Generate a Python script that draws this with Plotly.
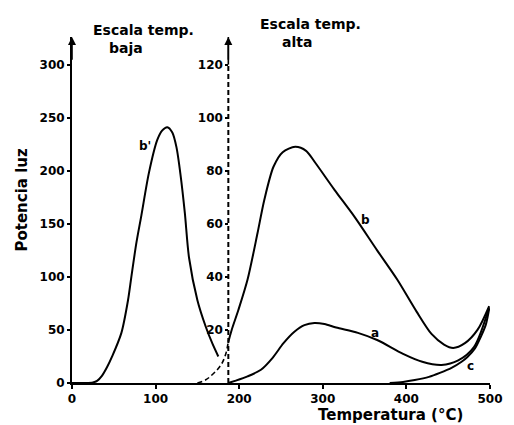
import plotly.graph_objects as go

# ---- data ----
# curve b' : low temperature scale (left axis, 0-300)
bp_T = [0, 15, 25, 30, 36, 42, 48, 59, 67, 71, 77, 83, 92, 102, 108, 114, 120, 125, 130, 135, 140, 150, 160, 168, 175]
bp_V = [0, 0, 0.5, 2, 7, 15, 25, 47, 78, 100, 132, 158, 198, 229, 238, 241, 236, 222, 195, 160, 118, 78, 53, 37, 25]

# curve b : high temperature scale (right axis, 0-120); dashed part below the split temperature
b_low_T = [150, 160, 168, 175, 180, 184, 187]
b_low_V = [0, 1.2, 3.2, 5.5, 7.8, 11, 15.5]
b_T = [187, 191, 199, 210, 222, 230, 241, 252, 267, 280, 291, 314, 338, 365, 389, 412, 430, 445, 456, 470, 485, 499]
b_V = [15.5, 20, 27.5, 39, 56.6, 69, 81.5, 87, 89, 87.5, 83, 72.8, 62.6, 50, 39, 27, 18.5, 14.5, 13.2, 15, 20, 29]

# curve a
a_T = [187, 195, 210, 226, 240, 253, 266, 278, 290, 302, 316, 342, 365, 396, 419, 442, 462, 481, 499]
a_V = [0, 0.8, 2.5, 5, 9.5, 15, 19.3, 21.8, 22.6, 22.2, 20.9, 18.9, 16.2, 11, 8, 6.8, 8.5, 13.6, 28.5]

# curve c
c_T = [380, 396, 410, 427, 440, 454, 466, 473, 482, 489, 495, 499]
c_V = [0, 0.4, 1.1, 2.3, 3.8, 5.7, 8, 9.8, 13, 17.4, 22, 28]

split_T = 187          # temperature of the dashed (high-scale) axis
left_ticks = [0, 50, 100, 150, 200, 250, 300]
right_ticks = [20, 40, 60, 80, 100, 120]
x_ticks = [0, 100, 200, 300, 400, 500]
left_top = 326
scale = 2.5            # left units per right unit
curve_labels = [("b'", 87, 223, "y"), ("b", 351, 61.5, "y2"), ("a", 363, 19, "y2"), ("c", 477, 6.5, "y2")]

FONT = "DejaVu Sans"
line = dict(color="black", width=2, shape="spline", smoothing=0.8)

W, H = 514, 425
L, R, T, B = 72, 11, 37, 42
pw, ph = W - L - R, H - T - B


def px_x(v):
    return (v - L) / pw


def px_y(v):
    return 1 - (v - T) / ph


fig = go.Figure()
fig.add_trace(go.Scatter(x=bp_T, y=bp_V, mode="lines", line=line, yaxis="y"))
fig.add_trace(go.Scatter(x=b_low_T, y=b_low_V, mode="lines",
                         line=dict(color="black", width=1.6, dash="5px,3px", shape="spline"), yaxis="y2"))
fig.add_trace(go.Scatter(x=b_T, y=b_V, mode="lines", line=line, yaxis="y2"))
fig.add_trace(go.Scatter(x=a_T, y=a_V, mode="lines", line=line, yaxis="y2"))
fig.add_trace(go.Scatter(x=c_T, y=c_V, mode="lines", line=line, yaxis="y2"))
# dashed axis of the high temperature scale
fig.add_trace(go.Scatter(x=[split_T, split_T], y=[0, 120], mode="lines",
                         line=dict(color="black", width=2, dash="5px,3px"), yaxis="y2"))
fig.add_trace(go.Scatter(x=[split_T, split_T], y=[120, left_top / scale], mode="lines",
                         line=dict(color="black", width=1.6), yaxis="y2"))

# arrows at top of both vertical axes
for xv, yr in [(0, "y"), (split_T, "y2")]:
    top = left_top if yr == "y" else left_top / scale
    fig.add_annotation(x=xv, y=top, ax=xv, ay=top * 0.93, xref="x", yref=yr, axref="x", ayref=yr,
                       showarrow=True, arrowhead=2, arrowsize=1, arrowwidth=1.6, arrowcolor="black", text="")

for txt, xv, yv, yr in curve_labels:
    fig.add_annotation(x=xv, y=yv, xref="x", yref=yr, text=txt, showarrow=False,
                       font=dict(family=FONT, size=12, color="black", weight="bold"))

title_font = dict(family=FONT, size=14, color="black", weight="bold")
fig.add_annotation(x=px_x(146), y=px_y(30), xref="paper", yref="paper", text="Escala temp.", showarrow=False,
                   xanchor="center", yanchor="middle", font=title_font)
fig.add_annotation(x=px_x(128), y=px_y(48), xref="paper", yref="paper", text="baja", showarrow=False,
                   xanchor="center", yanchor="middle", font=title_font)
fig.add_annotation(x=px_x(318), y=px_y(24), xref="paper", yref="paper", text="Escala temp.", showarrow=False,
                   xanchor="center", yanchor="middle", font=title_font)
fig.add_annotation(x=px_x(304), y=px_y(42), xref="paper", yref="paper", text="alta", showarrow=False,
                   xanchor="center", yanchor="middle", font=title_font)

fig.add_annotation(x=px_x(20), y=px_y(200), xref="paper", yref="paper", text="Potencia luz",
                   textangle=-90, showarrow=False, xanchor="center", yanchor="middle",
                   font=dict(family=FONT, size=15, color="black", weight="bold"))
fig.add_annotation(x=px_x(400), y=px_y(415), xref="paper", yref="paper", text="Temperatura (°C)",
                   showarrow=False, xanchor="center", yanchor="middle",
                   font=dict(family=FONT, size=15, color="black", weight="bold"))

tickfont = dict(family=FONT, size=12, color="black", weight="bold")
fig.update_layout(
    width=W, height=H, margin=dict(l=L, r=R, t=T, b=B),
    plot_bgcolor="white", paper_bgcolor="white", showlegend=False,
    xaxis=dict(range=[0, 500], tickvals=x_ticks, showgrid=False, zeroline=False, showline=True,
               linecolor="black", linewidth=2, ticks="outside", ticklen=4, tickwidth=1.5, tickcolor="black",
               tickfont=tickfont, ticklabeloverflow="allow"),
    yaxis=dict(range=[0, left_top], tickvals=left_ticks, showgrid=False, zeroline=False, showline=True,
               linecolor="black", linewidth=2, ticks="outside", ticklen=3, tickwidth=1.5, tickcolor="black",
               tickfont=tickfont),
    yaxis2=dict(range=[0, left_top / scale], tickvals=right_ticks, overlaying="y", anchor="free",
                position=split_T / 500, side="left", showgrid=False, zeroline=False, showline=False,
                ticks="outside", ticklen=3, tickwidth=1.5, tickcolor="black", tickfont=tickfont),
)

fig.write_html("out.html")
